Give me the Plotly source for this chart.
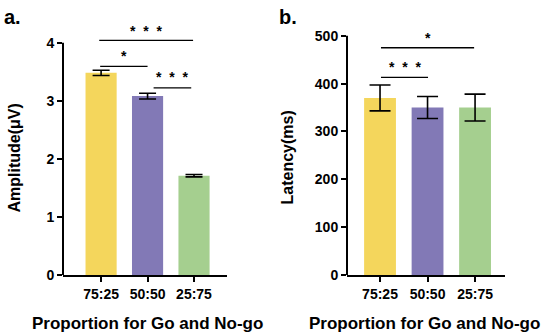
import plotly.graph_objects as go

categories = ["75:25", "50:50", "25:75"]
amplitude = [3.48, 3.08, 1.71]
amplitude_err = [0.045, 0.05, 0.02]
latency = [370, 350, 350]
latency_err = [27, 23, 28]
amp_ticks = [0, 1, 2, 3, 4]
lat_ticks = [0, 100, 200, 300, 400, 500]
colors = ["#F4D65C", "#8279B6", "#A5CF8F"]

FONT = "Liberation Sans, Arial, sans-serif"
W, H = 550, 335

fig = go.Figure()
fig.add_trace(go.Bar(x=categories, y=amplitude, marker=dict(color=colors, line=dict(width=0)),
                     width=0.67,
                     error_y=dict(type="data", array=amplitude_err, color="black", thickness=1.6, width=8.5),
                     xaxis="x", yaxis="y", showlegend=False))
fig.add_trace(go.Bar(x=categories, y=latency, marker=dict(color=colors, line=dict(width=0)),
                     width=0.67,
                     error_y=dict(type="data", array=latency_err, color="black", thickness=1.6, width=10.5),
                     xaxis="x2", yaxis="y2", showlegend=False))

ydom = [(335 - 275) / H, (335 - 20) / H]
tickfont = dict(family=FONT, size=14, color="black", weight="bold")
common_x = dict(type="category", showline=True, linewidth=2, linecolor="black", ticks="outside",
                ticklen=5, tickwidth=2, tickcolor="black", tickfont=tickfont, showgrid=False,
                zeroline=False, fixedrange=True, automargin=False)
common_y = dict(showline=False, ticks="outside", ticklen=5, tickwidth=2, tickcolor="black",
                tickfont=tickfont, showgrid=False, zeroline=False, domain=ydom, automargin=False,
                fixedrange=True)

fig.update_layout(
    width=W, height=H, margin=dict(l=0, r=0, t=0, b=0, pad=0, autoexpand=False),
    paper_bgcolor="white", plot_bgcolor="white",
    xaxis=dict(domain=[63 / W, 227 / W], range=[-0.82, 2.71], anchor="y", **common_x),
    yaxis=dict(range=[0, 4.39], tickvals=amp_ticks, anchor="x", **common_y),
    xaxis2=dict(domain=[347 / W, 505 / W], range=[-0.695, 2.63], anchor="y2", **common_x),
    yaxis2=dict(range=[0, 533], tickvals=lat_ticks, anchor="x2", **common_y),
)

shapes = [
    dict(type="line", xref="x domain", yref="y", x0=0, x1=0, y0=0, y1=amp_ticks[-1],
         line=dict(color="black", width=2)),
    dict(type="line", xref="x2 domain", yref="y2", x0=0, x1=0, y0=0, y1=lat_ticks[-1],
         line=dict(color="black", width=2)),
]
# significance brackets
sig_a = [(-0.04, 1.98, 4.04, "*\u00a0\u00a0*\u00a0\u00a0*", 4.26),
         (-0.02, 1.0, 3.59, "*", 3.82),
         (1.13, 1.94, 3.22, "*\u00a0\u00a0*\u00a0\u00a0*", 3.46)]
sig_b = [(0.02, 1.98, 475, "*", 501),
         (0.02, 1.01, 413, "*\u00a0\u00a0*\u00a0\u00a0*", 441.5)]
annotations = []
for (x0, x1, y, txt, ty), (xr, yr) in [(s, ("x", "y")) for s in sig_a] + [(s, ("x2", "y2")) for s in sig_b]:
    shapes.append(dict(type="line", xref=xr, yref=yr, x0=x0, x1=x1, y0=y, y1=y,
                       line=dict(color="black", width=1.3)))
    annotations.append(dict(xref=xr, yref=yr, x=(x0 + x1) / 2, y=ty, text=txt, showarrow=False,
                            yanchor="middle", yshift=-3,
                            font=dict(family=FONT, size=14, color="black", weight="bold")))

title_font_x = dict(family=FONT, size=17, color="black", weight="bold")
title_font_y = dict(family=FONT, size=16, color="black", weight="bold")
annotations += [
    dict(xref="paper", yref="paper", x=147.5 / W, y=(335 - 323) / H, text="Proportion for Go and No-go",
         showarrow=False, font=title_font_x, xanchor="center", yanchor="middle"),
    dict(xref="paper", yref="paper", x=424 / W, y=(335 - 323) / H, text="Proportion for Go and No-go",
         showarrow=False, font=title_font_x, xanchor="center", yanchor="middle"),
    dict(xref="paper", yref="paper", x=14 / W, y=(335 - 158.5) / H, text="Amplitude(μV)",
         showarrow=False, font=title_font_y, textangle=-90, xanchor="center", yanchor="middle"),
    dict(xref="paper", yref="paper", x=287 / W, y=(335 - 157.5) / H, text="Latency(ms)",
         showarrow=False, font=title_font_y, textangle=-90, xanchor="center", yanchor="middle"),
    dict(xref="paper", yref="paper", x=2 / W, y=(335 - 4) / H, text="a.", showarrow=False,
         font=dict(family=FONT, size=20, color="black", weight="bold"), xanchor="left", yanchor="top"),
    dict(xref="paper", yref="paper", x=277 / W, y=(335 - 4) / H, text="b.", showarrow=False,
         font=dict(family=FONT, size=20, color="black", weight="bold"), xanchor="left", yanchor="top"),
]
fig.update_layout(shapes=shapes, annotations=annotations)
fig.write_html("out.html", config={"displayModeBar": False},
               post_script="document.body.style.margin='0px';")
